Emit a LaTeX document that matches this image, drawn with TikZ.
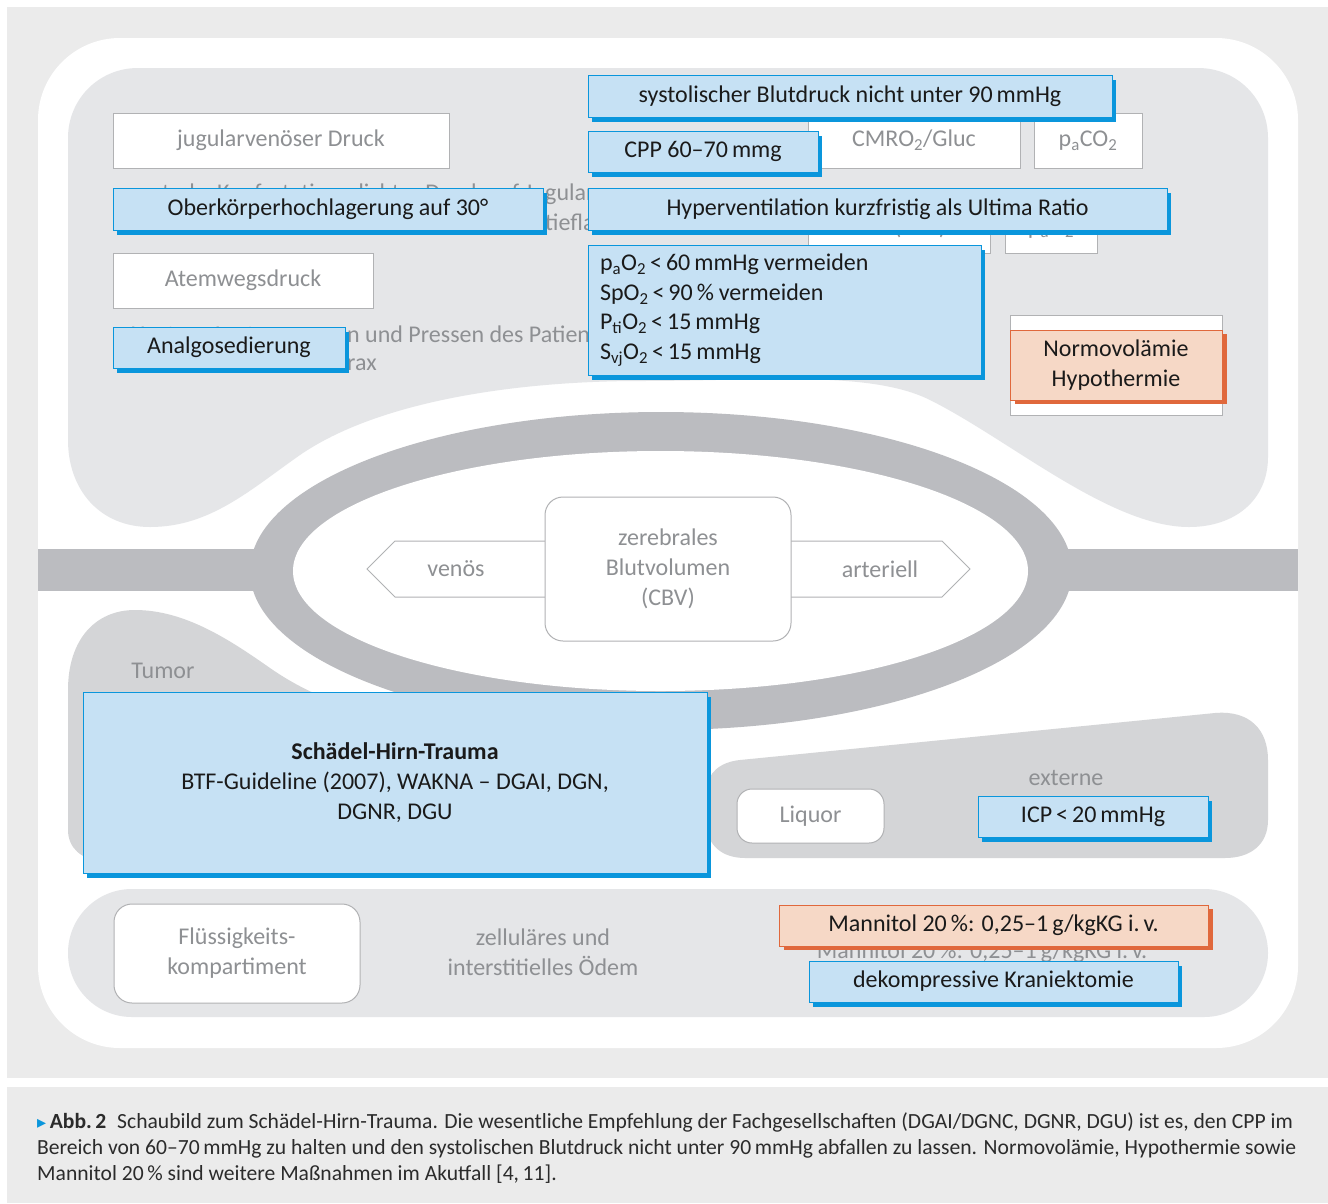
\documentclass[tikz,border=0pt]{standalone}
\usepackage{fontspec}
\setmainfont{Carlito}
\newfontfamily\djv{DejaVu Sans}
\usetikzlibrary{shadows}
\definecolor{panelgray}{HTML}{EBEBEB}
\definecolor{regiongray}{HTML}{E5E6E8}
\definecolor{darkregion}{HTML}{D4D5D7}
\definecolor{bandgray}{HTML}{BBBCC0}
\definecolor{textgray}{HTML}{8E9093}
\definecolor{linegray}{HTML}{B1B2B4}
\definecolor{bluefill}{HTML}{C6E1F4}
\definecolor{blueline}{HTML}{0A96DC}
\definecolor{orangefill}{HTML}{F6D8C6}
\definecolor{orangeline}{HTML}{E0683C}
\definecolor{darktext}{HTML}{1A1A1A}
\definecolor{captext}{HTML}{2B2B2B}
\begin{document}
\begin{tikzpicture}[x=1pt,y=-1pt,
  lbl/.style={font=\fontsize{24}{30}\selectfont, inner sep=0pt, align=center},
  ghost/.style={lbl, text=textgray},
  whitebox/.style={lbl, rectangle, fill=white, draw=linegray, line width=1pt, text=textgray},
  roundbox/.style={whitebox, rounded corners=18pt},
  bluebox/.style={lbl, rectangle, fill=bluefill, draw=blueline, line width=1pt, text=darktext,
    general shadow={fill=blueline, shadow xshift=4pt, shadow yshift=-5pt}},
  orangebox/.style={lbl, rectangle, fill=orangefill, draw=orangeline, line width=1pt, text=darktext,
    general shadow={fill=orangeline, shadow xshift=5pt, shadow yshift=-4pt}},
  arrowshape/.style={fill=white, draw=linegray, line width=1pt}
]
\useasboundingbox (0,0) rectangle (1328,1203);
% backgrounds
\fill[white] (0,0) rectangle (1328,1203);
\fill[panelgray] (7,7) rectangle (1328,1078);
\fill[panelgray] (7,1087) rectangle (1328,1203);
\fill[white, rounded corners=82pt] (38,38) rectangle (1298,1048);
% regions
\fill[regiongray] (68,440) -- (68,138) .. controls (68,99) and (99,68) .. (138,68)
  -- (1198,68) .. controls (1237,68) and (1268,99) .. (1268,138)
  -- (1268,457) .. controls (1268,500) and (1235,527) .. (1189,527)
  .. controls (1110,527) and (1010,440) .. (930,400)
  .. controls (870,370) and (760,381) .. (640,381)
  .. controls (520,381) and (380,400) .. (300,455)
  .. controls (250,490) and (210,527) .. (150,527)
  .. controls (100,527) and (68,490) .. (68,440) -- cycle;
\fill[darkregion] (68,690) .. controls (68,640) and (95,610) .. (135,610)
  .. controls (185,610) and (230,640) .. (270,668)
  .. controls (290,682) and (310,692) .. (330,700)
  -- (330,860) -- (100,860) .. controls (82,860) and (68,848) .. (68,830) -- cycle;
\fill[darkregion] (740,760) -- (1215,713) .. controls (1250,710) and (1268,730) .. (1268,760)
  -- (1268,820) .. controls (1268,845) and (1250,858) .. (1225,858)
  -- (745,858) .. controls (722,858) and (707,845) .. (707,825)
  -- (707,790) .. controls (707,773) and (720,762) .. (740,760) -- cycle;
\fill[regiongray, rounded corners=64pt] (68,889) rectangle (1268,1017);
% vessel ring and bars
\fill[bandgray] (661,571) ellipse [x radius=411pt, y radius=159pt];
\fill[white] (660.5,571) ellipse [x radius=367.5pt, y radius=120pt];
\fill[bandgray] (38,549) rectangle (262,591);
\fill[bandgray] (1060,549) rectangle (1298,591);
% white boxes (background layer)
\node[whitebox, minimum width=336, minimum height=55] (jug) at (281,140.5) {jugularvenöser Druck};
\node[whitebox, minimum width=260, minimum height=55] (atem) at (243,280.5) {Atemwegsdruck};
\node[whitebox, minimum width=212, minimum height=55] (cmro) at (914,140.5) {CMRO\textsubscript{2}/Gluc};
\node[whitebox, minimum width=108, minimum height=55] (paco) at (1088,140.5) {p\textsubscript{a}CO\textsubscript{2}};
\node[whitebox, minimum width=182, minimum height=55] (hida) at (899,225.5) {};
\node[ghost, anchor=base] (hidatext) at (899,234) {CBF (CPP)};
\node[whitebox, minimum width=92, minimum height=55] (hidb) at (1051,225.5) {};
\node[ghost, anchor=base] (hidbtext) at (1051,234) {p\textsubscript{a}O\textsubscript{2}};
\node[whitebox, minimum width=212, minimum height=100] (normoback) at (1116,365) {};
% ghost texts
\node[ghost, anchor=base east] (g1a) at (545,200) {starke Kopfrotation, dichter Druck auf Ju};
\node[ghost, anchor=base west] (g1b) at (545,200) {gularvenen};
\node[ghost, anchor=base east] (g2a) at (545,230) {Oberkörperflachlagerung, Kopf};
\node[ghost, anchor=base west] (g2b) at (545,230) {tieflagerung};
\node[ghost, anchor=base east] (g3a) at (347,342) {Husten, Anstrengunge};
\node[ghost, anchor=base west] (g3b) at (347,342) {n und Pressen des Patienten};
\node[ghost, anchor=base east] (g4a) at (347,370) {erhöhter Druck im Tho};
\node[ghost, anchor=base west] (g4b) at (347,370) {rax};
\node[ghost] (mannghost) at (982,952) {Mannitol 20\,\%: 0,25–1\,g/kgKG i.\,v.};
% blue boxes
\node[bluebox, minimum width=524, minimum height=42] (sys) at (850,96) {systolischer Blutdruck nicht unter 90\,mmHg};
\node[bluebox, minimum width=230, minimum height=41] (cpp) at (703,151.5) {CPP 60–70\,mmg};
\node[bluebox, minimum width=579, minimum height=42] (hyp) at (877.5,209) {Hyperventilation kurzfristig als Ultima Ratio};
\node[bluebox, minimum width=393, minimum height=130, text width=369pt, inner xsep=12pt, align=left,
  font=\fontsize{24}{29.5}\selectfont] (pox) at (784.5,310)
  {\mbox{p\textsubscript{a}O\textsubscript{2}\,<\,60\,mmHg\hspace{0.2em}vermeiden}\\
   \mbox{SpO\textsubscript{2}\,<\,90\,\%\hspace{0.2em}vermeiden}\\
   \mbox{P\textsubscript{ti}O\textsubscript{2}\,<\,15\,mmHg}\\
   \mbox{S\textsubscript{vj}O\textsubscript{2}\,<\,15\,mmHg}};
\node[bluebox, minimum width=430, minimum height=42] (ober) at (328,209) {Oberkörperhochlagerung auf 30°};
\node[bluebox, minimum width=232, minimum height=41] (analgo) at (229,347.5) {Analgosedierung};
\node[orangebox, minimum width=212, minimum height=70] (normo) at (1116,365) {Normovolämie\\Hypothermie};
% central CBV
\filldraw[arrowshape] (545,541) -- (395,541) -- (367,569) -- (395,597) -- (545,597);
\filldraw[arrowshape] (791,541) -- (942,541) -- (970,569) -- (942,597) -- (791,597);
\node[roundbox, minimum width=246, minimum height=144] (cbv) at (668,569) {zerebrales\\Blutvolumen\\(CBV)};
\node[ghost] (venoes) at (456,569) {venös};
\node[ghost] (arteriell) at (880,569) {arteriell};
% lower part
\node[ghost] (tumor) at (163,671) {Tumor};
\node[bluebox, minimum width=624, minimum height=181] (sht) at (395,782.5)
  {\textbf{Schädel-Hirn-Trauma}\\BTF-Guideline (2007), WAKNA – DGAI, DGN,\\DGNR, DGU};
\node[ghost] (externe) at (1066,778) {externe};
\node[roundbox, rounded corners=15pt, minimum width=147, minimum height=54] (liquor) at (810.5,816) {Liquor};
\node[bluebox, minimum width=230, minimum height=41] (icp) at (1093,816.5) {ICP\,<\,20\,mmHg};
\node[roundbox, minimum width=246, minimum height=99] (fluess) at (237,953.5) {Flüssigkeits-\\kompartiment};
\node[ghost] (oedem) at (543,952) {zelluläres und\\interstitielles Ödem};
\node[orangebox, minimum width=429, minimum height=41] (mannitol) at (993.5,925.5) {Mannitol 20\,\%: 0,25–1\,g/kgKG i.\,v.};
\node[bluebox, minimum width=369, minimum height=41] (dek) at (993.5,981.5) {dekompressive Kraniektomie};
% caption
\node[anchor=base west, inner sep=0pt, align=left, text=captext, font=\fontsize{21.6}{26}\selectfont] (caption) at (37,1180)
  {{\djv\fontsize{18}{26}\selectfont\color{blueline}▸}\,\textbf{Abb.\,2}\enspace Schaubild zum Schädel-Hirn-Trauma. Die wesentliche Empfehlung der Fachgesellschaften (DGAI/DGNC, DGNR, DGU) ist es, den CPP im\\
   Bereich von 60–70\,mmHg zu halten und den systolischen Blutdruck nicht unter 90\,mmHg abfallen zu lassen. Normovolämie, Hypothermie sowie\\
   Mannitol 20\,\% sind weitere Maßnahmen im Akutfall [4,\,11].};
\end{tikzpicture}
\end{document}
